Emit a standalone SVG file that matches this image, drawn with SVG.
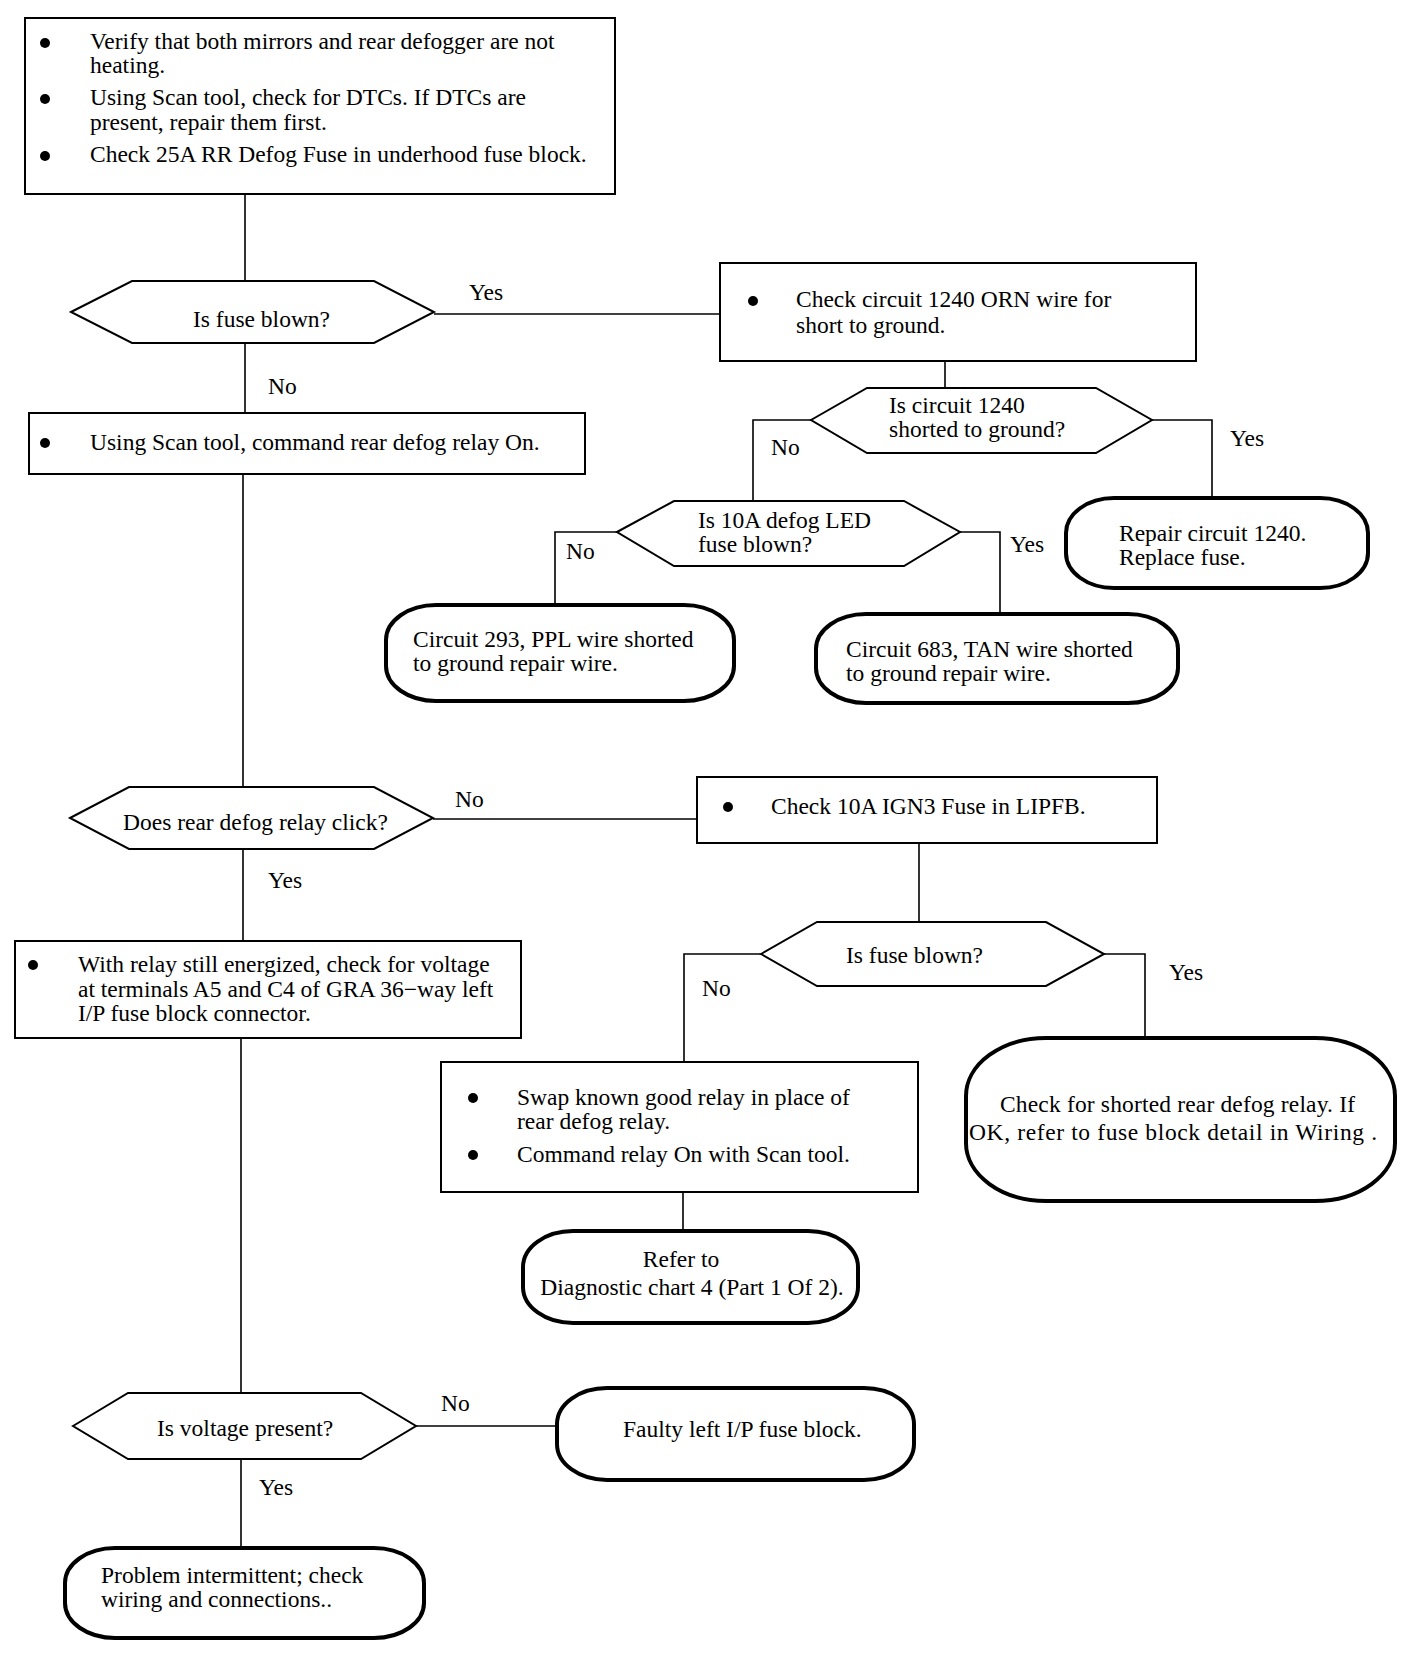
<svg xmlns="http://www.w3.org/2000/svg" width="1408" height="1654" viewBox="0 0 1408 1654">
<style>
text{font-family:"Liberation Serif","Times New Roman",serif;font-size:23.5px;fill:#000}
.box{fill:#fff;stroke:#000;stroke-width:2}
.dec{fill:#fff;stroke:#000;stroke-width:2}
.term{fill:#fff;stroke:#000;stroke-width:4}
.c{fill:none;stroke:#000;stroke-width:1.6}
.b{fill:#000}
.mid{text-anchor:middle}
</style>
<rect width="1408" height="1654" fill="#fff"/>
<g id="connectors">
<polyline class="c" points="245,194 245,281"/>
<polyline class="c" points="245,343 245,413"/>
<polyline class="c" points="243,474 243,787"/>
<polyline class="c" points="243,849 243,941"/>
<polyline class="c" points="241,1038 241,1393"/>
<polyline class="c" points="241,1459 241,1548"/>
<polyline class="c" points="434,314 720,314"/>
<polyline class="c" points="945,361 945,388"/>
<polyline class="c" points="811,420 753,420 753,501"/>
<polyline class="c" points="1152,420 1212,420 1212,498"/>
<polyline class="c" points="617,532 555,532 555,605"/>
<polyline class="c" points="960,532 1000,532 1000,614"/>
<polyline class="c" points="433,819 697,819"/>
<polyline class="c" points="919,843 919,922"/>
<polyline class="c" points="761,954 684,954 684,1062"/>
<polyline class="c" points="1104,954 1145,954 1145,1038"/>
<polyline class="c" points="683,1192 683,1231"/>
<polyline class="c" points="416,1426 557,1426"/>
<text x="469" y="300">Yes</text>
<text x="268" y="394">No</text>
<text x="771" y="455">No</text>
<text x="1230" y="446">Yes</text>
<text x="566" y="559">No</text>
<text x="1010" y="552">Yes</text>
<text x="455" y="807">No</text>
<text x="268" y="888">Yes</text>
<text x="702" y="996">No</text>
<text x="1169" y="980">Yes</text>
<text x="441" y="1411">No</text>
<text x="259" y="1495">Yes</text>
</g>
<g id="start">
<rect class="box" x="25" y="18" width="590" height="176"/>
<circle class="b" cx="45" cy="43" r="5"/>
<circle class="b" cx="45" cy="99" r="5"/>
<circle class="b" cx="45" cy="156" r="5"/>
<text x="90" y="49">Verify that both mirrors and rear defogger are not</text>
<text x="90" y="73">heating.</text>
<text x="90" y="105">Using Scan tool, check for DTCs. If DTCs are</text>
<text x="90" y="130">present, repair them first.</text>
<text x="90" y="162">Check 25A RR Defog Fuse in underhood fuse block.</text>
</g>
<g id="fuse-blown">
<polygon class="dec" points="71,312 132,281 374,281 434,312 374,343 132,343"/>
<text x="193" y="327">Is fuse blown?</text>
</g>
<g id="command-relay">
<rect class="box" x="29" y="413" width="556" height="61"/>
<circle class="b" cx="45" cy="443" r="5"/>
<text x="90" y="450">Using Scan tool, command rear defog relay On.</text>
</g>
<g id="check-1240">
<rect class="box" x="720" y="263" width="476" height="98"/>
<circle class="b" cx="753" cy="301" r="5"/>
<text x="796" y="307">Check circuit 1240 ORN wire for</text>
<text x="796" y="333">short to ground.</text>
</g>
<g id="shorted-1240">
<polygon class="dec" points="811,420 867,388 1096,388 1152,420 1096,453 867,453"/>
<text x="889" y="413">Is circuit 1240</text>
<text x="889" y="437">shorted to ground?</text>
</g>
<g id="repair-1240">
<rect class="term" x="1066" y="498" width="302" height="90" rx="48" ry="35"/>
<text x="1119" y="541">Repair circuit 1240.</text>
<text x="1119" y="565">Replace fuse.</text>
</g>
<g id="led-fuse">
<polygon class="dec" points="617,532 674,501 904,501 960,532 904,566 674,566"/>
<text x="698" y="528">Is 10A defog LED</text>
<text x="698" y="552">fuse blown?</text>
</g>
<g id="circuit-293">
<rect class="term" x="386" y="605" width="348" height="96" rx="50" ry="35"/>
<text x="413" y="647">Circuit 293, PPL wire shorted</text>
<text x="413" y="671">to ground repair wire.</text>
</g>
<g id="circuit-683">
<rect class="term" x="816" y="614" width="362" height="89" rx="50" ry="35"/>
<text x="846" y="657">Circuit 683, TAN wire shorted</text>
<text x="846" y="681">to ground repair wire.</text>
</g>
<g id="relay-click">
<polygon class="dec" points="70,818 129,787 374,787 433,818 374,849 129,849"/>
<text x="123" y="830">Does rear defog relay click?</text>
</g>
<g id="check-ign3">
<rect class="box" x="697" y="777" width="460" height="66"/>
<circle class="b" cx="728" cy="807" r="5"/>
<text x="771" y="814">Check 10A IGN3 Fuse in LIPFB.</text>
</g>
<g id="check-voltage">
<rect class="box" x="15" y="941" width="506" height="97"/>
<circle class="b" cx="33" cy="965" r="5"/>
<text x="78" y="972">With relay still energized, check for voltage</text>
<text x="78" y="997">at terminals A5 and C4 of GRA 36−way left</text>
<text x="78" y="1021">I/P fuse block connector.</text>
</g>
<g id="ign3-blown">
<polygon class="dec" points="761,954 817,922 1046,922 1104,954 1046,986 817,986"/>
<text x="846" y="963">Is fuse blown?</text>
</g>
<g id="swap-relay">
<rect class="box" x="441" y="1062" width="477" height="130"/>
<circle class="b" cx="473" cy="1098" r="5"/>
<circle class="b" cx="473" cy="1155" r="5"/>
<text x="517" y="1105">Swap known good relay in place of</text>
<text x="517" y="1129">rear defog relay.</text>
<text x="517" y="1162">Command relay On with Scan tool.</text>
</g>
<g id="shorted-relay">
<rect class="term" x="966" y="1038" width="429" height="163" rx="80" ry="58"/>
<text x="1000" y="1112" textLength="355" lengthAdjust="spacing">Check for shorted rear defog relay. If</text>
<text x="969" y="1140" textLength="408" lengthAdjust="spacing">OK, refer to fuse block detail in Wiring .</text>
</g>
<g id="refer-chart">
<rect class="term" x="523" y="1231" width="335" height="92" rx="50" ry="36"/>
<text class="mid" x="681" y="1267">Refer to</text>
<text class="mid" x="692" y="1295">Diagnostic chart 4 (Part 1 Of 2).</text>
</g>
<g id="voltage-present">
<polygon class="dec" points="73,1426 128,1393 361,1393 416,1426 361,1459 128,1459"/>
<text x="157" y="1436">Is voltage present?</text>
</g>
<g id="faulty-block">
<rect class="term" x="557" y="1388" width="357" height="92" rx="50" ry="36"/>
<text x="623" y="1437">Faulty left I/P fuse block.</text>
</g>
<g id="intermittent">
<rect class="term" x="65" y="1548" width="359" height="90" rx="50" ry="35"/>
<text x="101" y="1583">Problem intermittent; check</text>
<text x="101" y="1607">wiring and connections..</text>
</g>
</svg>
